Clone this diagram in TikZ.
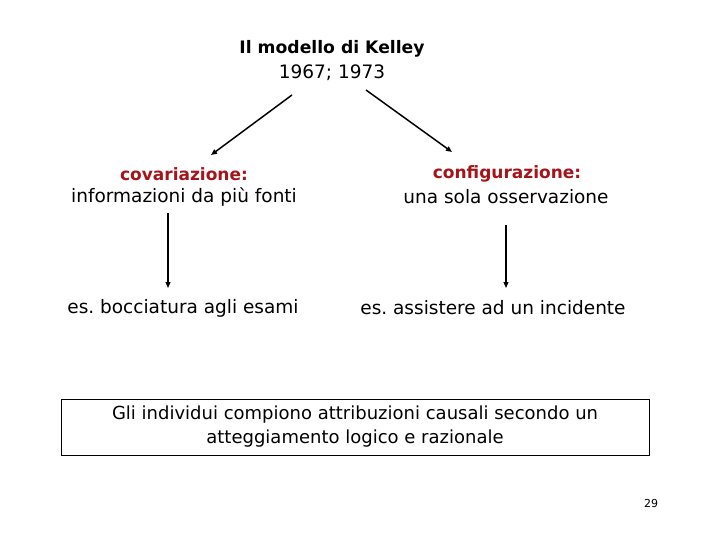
\documentclass[tikz,border=0pt]{standalone}
\usepackage{fontspec}
\setmainfont{DejaVu Sans}
\usetikzlibrary{arrows.meta}
\definecolor{darkred}{RGB}{165,20,25}
\frenchspacing
\begin{document}
\begin{tikzpicture}[x=1pt,y=-1pt,
  txt/.style={inner sep=0pt,font=\fontsize{18.5}{22}\selectfont,text=black},
  head/.style={inner sep=0pt,font=\fontsize{17}{20}\selectfont\bfseries,text=darkred},
  conn/.style={draw=black,line width=1.5pt,-{Triangle[length=6pt,width=5pt]}}]
\useasboundingbox (0,0) rectangle (720,540);
\node[txt,font=\fontsize{17.2}{20}\selectfont\bfseries] (title) at (332,49) {Il modello di Kelley};
\node[txt] (years) at (332,73) {1967; 1973};
\node[head] (cov) at (184,174) {covariazione:};
\node[txt] (covd) at (184,197) {informazioni da più fonti};
\node[head] (conf) at (507,174) {configurazione:};
\node[txt] (confd) at (506,197) {una sola osservazione};
\node[txt] (ex1) at (183,308) {es. bocciatura agli esami};
\node[txt] (ex2) at (493,308) {es. assistere ad un incidente};
\node[draw=black,line width=0.8pt,minimum width=588pt,minimum height=56pt,inner sep=0pt,align=center,font=\fontsize{18}{24}\selectfont] (box) at (355,427) {Gli individui compiono attribuzioni causali secondo un\\atteggiamento logico e razionale};
\node[inner sep=0pt,font=\fontsize{11}{13}\selectfont] (pg) at (651,503) {29};
\coordinate (a1s) at (292,95);
\coordinate (a1e) at (211,155);
\coordinate (a2s) at (366,90);
\coordinate (a2e) at (452,152);
\coordinate (v1s) at (168,213);
\coordinate (v1e) at (168,288);
\coordinate (v2s) at (506,225);
\coordinate (v2e) at (506,288);
\draw[conn] (a1s) -- (a1e);
\draw[conn] (a2s) -- (a2e);
\draw[conn,line width=1.2pt] (v1s) -- (v1e);
\draw[conn,line width=1.2pt] (v2s) -- (v2e);
\end{tikzpicture}
\end{document}
